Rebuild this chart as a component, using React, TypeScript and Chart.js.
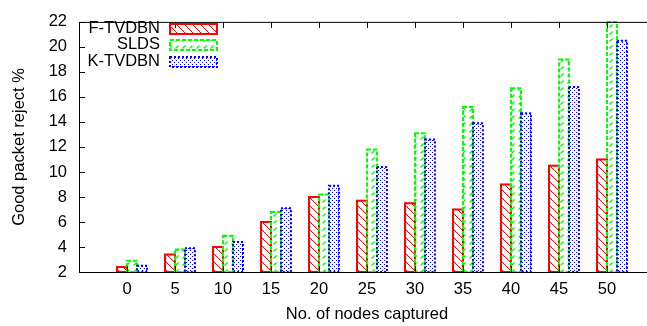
import React, { useEffect, useRef } from 'react';
import { Chart, registerables } from 'chart.js';

Chart.register(...registerables);

// ---- data ----
const categories = ['0', '5', '10', '15', '20', '25', '30', '35', '40', '45', '50'];
const seriesLabels = ['F-TVDBN', 'SLDS', 'K-TVDBN'];
const fTvdbn = [2.4, 3.4, 4.0, 6.0, 8.0, 7.7, 7.5, 7.0, 9.0, 10.5, 11.0];
const slds = [2.9, 3.8, 4.9, 6.8, 8.2, 11.8, 13.1, 15.2, 16.7, 19.0, 22.0];
const kTvdbn = [2.5, 3.9, 4.4, 7.1, 8.9, 10.4, 12.6, 13.9, 14.7, 16.8, 20.5];
const yMin = 2;
const yMax = 22;
const yStep = 2;

// ---- style ----
const FONT = { family: '"Liberation Sans", Arial, Helvetica, sans-serif', size: 16.5 };
const BAR_SHIFT = 5 / 48; // gnuplot offsets the cluster slightly right of its tick
const colors = ['#ff0000', '#00ff00', '#0000ff'];
const dashes: number[][] = [[], [4, 2], [2, 2]];

function tile(size: number, draw: (g: CanvasRenderingContext2D) => void) {
  const c = document.createElement('canvas');
  c.width = size;
  c.height = size;
  const g = c.getContext('2d')!;
  draw(g);
  return c;
}

function makePatterns(ctx: CanvasRenderingContext2D) {
  const red = tile(8, (g) => {
    g.strokeStyle = colors[0];
    g.lineWidth = 1;
    g.beginPath();
    g.moveTo(-1, -1); g.lineTo(9, 9);
    g.moveTo(-1, 7); g.lineTo(1, 9);
    g.moveTo(7, -1); g.lineTo(9, 1);
    g.stroke();
  });
  const green = tile(7, (g) => {
    g.strokeStyle = colors[1];
    g.lineWidth = 1.2;
    g.beginPath();
    g.moveTo(0.5, 6.5); g.lineTo(3.5, 3.5);
    g.stroke();
  });
  const blue = tile(4, (g) => {
    g.fillStyle = colors[2];
    g.fillRect(0, 0, 1, 1);
    g.fillRect(2, 2, 1, 1);
  });
  return [red, green, blue].map((c) => ctx.createPattern(c, 'repeat') as CanvasPattern);
}

function strokeBox(ctx: CanvasRenderingContext2D, i: number, l: number, t: number, w: number, h: number) {
  ctx.save();
  ctx.strokeStyle = colors[i];
  ctx.lineWidth = 2;
  ctx.setLineDash(dashes[i]);
  ctx.strokeRect(l, t, w, h);
  ctx.restore();
}

const borderPlugin = {
  id: 'barBorders',
  afterDatasetsDraw(chart: any) {
    const { ctx, chartArea } = chart;
    ctx.save();
    ctx.beginPath();
    ctx.rect(chartArea.left, chartArea.top - 1, chartArea.right - chartArea.left, chartArea.bottom - chartArea.top + 1);
    ctx.clip();
    chart.data.datasets.forEach((_: any, di: number) => {
      const meta = chart.getDatasetMeta(di);
      meta.data.forEach((el: any) => {
        const { x, y, base, width } = el.getProps(['x', 'y', 'base', 'width'], true);
        strokeBox(ctx, di, x - width / 2, y, width, base - y);
      });
    });
    ctx.restore();
  },
};

const framePlugin = {
  id: 'frame',
  afterDraw(chart: any) {
    const { ctx, chartArea } = chart;
    const { left, top, right, bottom } = chartArea;
    const xs = chart.scales.x;
    const ys = chart.scales.y;
    ctx.save();
    ctx.strokeStyle = '#000';
    ctx.lineWidth = 1;
    ctx.beginPath();
    ctx.moveTo(left + 0.5, top + 0.5);
    ctx.lineTo(left + 0.5, bottom + 0.5);
    ctx.moveTo(left, top + 0.5);
    ctx.lineTo(right, top + 0.5);
    ctx.moveTo(left, bottom + 0.5);
    ctx.lineTo(right, bottom + 0.5);
    ys.ticks.forEach((t: any) => {
      const py = Math.round(ys.getPixelForValue(t.value)) + 0.5;
      ctx.moveTo(left, py);
      ctx.lineTo(left + 6, py);
    });
    xs.ticks.forEach((t: any) => {
      const px = Math.round(xs.getPixelForValue(t.value)) + 0.5;
      ctx.moveTo(px, top);
      ctx.lineTo(px, top + 6);
      ctx.moveTo(px, bottom);
      ctx.lineTo(px, bottom - 6);
    });
    ctx.stroke();
    ctx.restore();
  },
};

const legendPlugin = {
  id: 'gpLegend',
  afterDraw(chart: any) {
    const { ctx } = chart;
    const textRight = 160;
    const boxLeft = 170;
    const boxW = 47;
    const boxH = 10;
    const y0 = 28.2;
    const dy = 16.6;
    ctx.save();
    ctx.font = `${FONT.size}px ${FONT.family}`;
    ctx.textAlign = 'right';
    ctx.textBaseline = 'middle';
    chart.data.datasets.forEach((ds: any, i: number) => {
      const cy = y0 + i * dy;
      ctx.fillStyle = '#000';
      ctx.fillText(ds.label, textRight, cy);
      const top = Math.round(cy + 0.5 - boxH / 2);
      ctx.fillStyle = ds.backgroundColor;
      ctx.fillRect(boxLeft, top, boxW, boxH);
      strokeBox(ctx, i, boxLeft, top, boxW, boxH);
    });
    ctx.restore();
  },
};

export default function App() {
  const ref = useRef<HTMLCanvasElement>(null);

  useEffect(() => {
    const canvas = ref.current!;
    const ctx = canvas.getContext('2d')!;
    const patterns = makePatterns(ctx);
    const series = [fTvdbn, slds, kTvdbn];

    const chart = new Chart(canvas, {
      type: 'bar',
      data: {
        datasets: series.map((vals, i) => ({
          label: seriesLabels[i],
          data: vals.map((v, k) => ({ x: k + BAR_SHIFT, y: v })),
          backgroundColor: patterns[i] as any,
          borderWidth: 0,
          base: yMin,
          categoryPercentage: 0.625,
          barPercentage: 1,
        })),
      },
      options: {
        responsive: false,
        animation: false,
        devicePixelRatio: 1,
        layout: { padding: { top: 14, right: 15, left: 0, bottom: 0 } },
        plugins: { legend: { display: false }, tooltip: { enabled: false } },
        scales: {
          x: {
            type: 'linear',
            offset: false,
            min: -1,
            max: 11,
            grid: { display: false, drawTicks: false },
            border: { display: false },
            afterBuildTicks: (scale: any) => {
              scale.ticks = categories.map((_, i) => ({ value: i }));
            },
            afterFit: (scale: any) => {
              scale.height = 54;
            },
            ticks: {
              autoSkip: false,
              maxRotation: 0,
              padding: 7.5,
              color: '#000',
              font: FONT,
              callback: (_v: any, idx: number) => categories[idx],
            },
            title: {
              display: true,
              text: 'No. of nodes captured',
              color: '#000',
              font: FONT,
              padding: { top: 0, bottom: 1.8 },
            },
          },
          y: {
            min: yMin,
            max: yMax,
            grid: { display: false, drawTicks: false },
            border: { display: false },
            afterFit: (scale: any) => {
              scale.width = 79;
            },
            ticks: {
              stepSize: yStep,
              padding: 12,
              color: '#000',
              font: FONT,
            },
            title: {
              display: true,
              text: 'Good packet reject %',
              color: '#000',
              font: FONT,
              padding: { top: 9.6, bottom: 0 },
            },
          },
        },
      },
      plugins: [borderPlugin, framePlugin, legendPlugin],
    } as any);

    return () => chart.destroy();
  }, []);

  return (
    <div
      style={{
        position: 'absolute',
        left: 0,
        top: 0,
        width: 647,
        height: 326,
        overflow: 'hidden',
        background: '#fff',
      }}
    >
      <canvas ref={ref} width={670} height={326} style={{ display: 'block' }} />
    </div>
  );
}
